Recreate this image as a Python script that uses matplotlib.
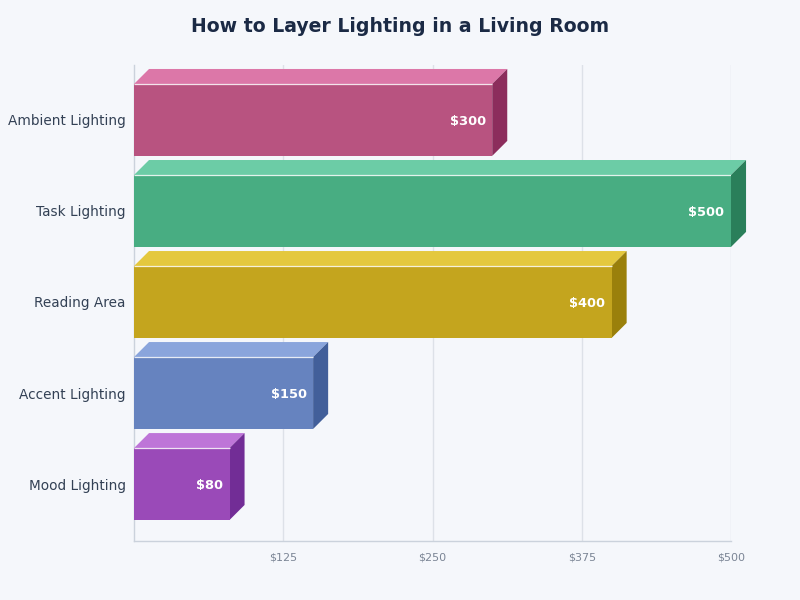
import matplotlib
matplotlib.use("Agg")
import matplotlib.pyplot as plt
from matplotlib.patches import Polygon, Rectangle

categories = ["Ambient Lighting", "Task Lighting", "Reading Area", "Accent Lighting", "Mood Lighting"]
values = [300, 500, 400, 150, 80]
front_colors = ["#b85380", "#48ad82", "#c4a51e", "#6683bf", "#9a4ab8"]
top_colors = ["#dc77a8", "#6ccca6", "#e4c83e", "#8aa5dc", "#be75d8"]
side_colors = ["#8c2d5c", "#2a7f5a", "#9a800b", "#425f9a", "#722d96"]
xticks = [125, 250, 375, 500]
xtick_labels = ["$125", "$250", "$375", "$500"]

bg = "#f5f7fb"
fig = plt.figure(figsize=(8, 6), dpi=100, facecolor=bg)
ax = fig.add_axes([0.1675, 0.0983, 0.74625, 0.7934])
ax.set_facecolor(bg)

ax.set_xlim(0, 500)
ax.set_ylim(4.626, -0.604)

h = 0.79
dx = 12.6
dy = 0.165

ax.set_axisbelow(True)
ax.grid(axis="x", color="#dde1e8", linewidth=1)
ax.grid(axis="y", visible=False)

for i, (cat, v) in enumerate(zip(categories, values)):
    y0 = i - h / 2
    y1 = i + h / 2
    # top face
    ax.add_patch(Polygon([(0, y0), (v, y0), (v + dx, y0 - dy), (dx, y0 - dy)],
                         closed=True, facecolor=top_colors[i], edgecolor="none", zorder=3, clip_on=False))
    # side face
    ax.add_patch(Polygon([(v, y0), (v + dx, y0 - dy), (v + dx, y1 - dy), (v, y1)],
                         closed=True, facecolor=side_colors[i], edgecolor="none", zorder=3, clip_on=False))
    # front face
    ax.add_patch(Rectangle((0, y0), v, h, facecolor=front_colors[i], edgecolor="none", zorder=4, clip_on=False))
    ax.plot([0, v], [y0, y0], color="white", linewidth=0.9, alpha=0.85, zorder=5, solid_capstyle="butt")
    ax.text(v - 5.5, i + 0.02, f"${v}", color="white", fontsize=9.4, fontweight="bold",
            ha="right", va="center", zorder=6)

ax.set_yticks(range(len(categories)))
ax.set_yticklabels(categories, fontsize=9.8, color="#334155")
ax.set_xticks(xticks)
ax.set_xticklabels(xtick_labels, fontsize=8, color="#7b8595")
ax.tick_params(axis="both", length=0)
ax.tick_params(axis="y", pad=6)
ax.tick_params(axis="x", pad=8)

for s in ["top", "right"]:
    ax.spines[s].set_visible(False)
for s in ["left", "bottom"]:
    ax.spines[s].set_color("#cbd2dc")
    ax.spines[s].set_linewidth(1)

fig.text(0.5, 0.955, "How to Layer Lighting in a Living Room", ha="center", va="center",
         fontsize=13.6, fontweight="bold", color="#1b2a45")

fig.savefig("out.png", dpi=100, facecolor=bg)
